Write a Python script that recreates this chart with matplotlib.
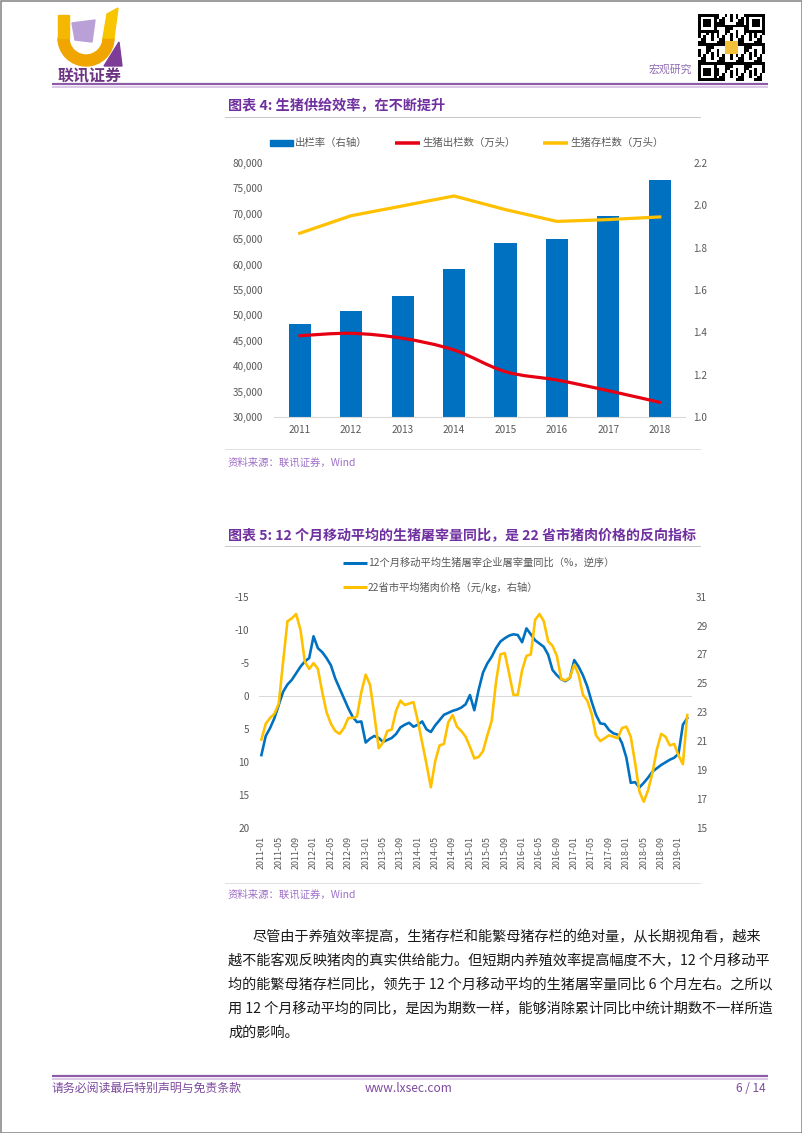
import matplotlib.pyplot as plt
import matplotlib.patches as mpatches
from matplotlib.path import Path
import numpy as np

plt.rcParams['font.family'] = ['Noto Sans CJK SC', 'DejaVu Sans']
plt.rcParams['axes.unicode_minus'] = False

W, H = 802, 1133

# ---- chart 4 data ----
years = ['2011', '2012', '2013', '2014', '2015', '2016', '2017', '2018']
ratio = [1.44, 1.50, 1.57, 1.70, 1.82, 1.84, 1.95, 2.12]          # 出栏率, right axis
chulan = [46000, 46470, 45490, 43190, 38920, 37280, 35180, 32890]  # red
cunlan = [66170, 69628, 71557, 73510, 70825, 68502, 68861, 69382]  # yellow

# ---- chart 5 data (monthly, 2011-01 ...) ----
month_ticks = ['2011-01', '2011-05', '2011-09', '2012-01', '2012-05', '2012-09',
               '2013-01', '2013-05', '2013-09', '2014-01', '2014-05', '2014-09',
               '2015-01', '2015-05', '2015-09', '2016-01', '2016-05', '2016-09',
               '2017-01', '2017-05', '2017-09', '2018-01', '2018-05', '2018-09',
               '2019-01']
slaughter_yoy = [9.0, 6.1, 4.9, 3.4, 1.4, -0.6, -1.7, -2.4, -3.4, -4.4, -5.2, -5.7,
                 -9.0, -7.2, -6.6, -5.7, -4.6, -2.6, -1.1, 0.4, 1.9, 3.2, 4.0, 3.9,
                 7.1, 6.5, 6.1, 6.4, 7.0, 6.7, 6.4, 5.8, 4.8, 4.4, 4.1, 4.7,
                 4.4, 3.9, 5.1, 5.5, 4.5, 3.7, 2.9, 2.6, 2.3, 2.1, 1.8, 1.3,
                 -0.1, 2.2, -0.9, -3.5, -4.9, -5.9, -7.2, -8.2, -8.7, -9.1, -9.3, -9.2,
                 -8.1, -10.2, -9.3, -8.4, -7.9, -7.4, -6.2, -3.9, -3.1, -2.5, -2.2, -2.7,
                 -5.4, -4.4, -3.1, -1.4, 0.9, 2.9, 4.2, 4.3, 5.2, 5.7, 5.9, 7.2,
                 9.4, 13.2, 13.1, 13.9, 13.2, 12.4, 11.5, 11.0, 10.5, 10.1, 9.7, 9.4,
                 8.8, 4.4, 3.4]
pork_price = [21.1, 22.2, 22.6, 22.9, 23.6, 26.5, 29.3, 29.5, 29.8, 28.7, 26.5, 26.0,
              26.4, 26.0, 24.4, 23.0, 22.2, 21.7, 21.5, 21.9, 22.6, 22.6, 22.7, 24.4,
              25.6, 24.9, 22.8, 20.5, 20.9, 21.7, 21.8, 23.1, 23.8, 23.5, 23.6, 23.7,
              22.4, 20.9, 19.4, 17.8, 19.6, 20.7, 20.8, 22.3, 22.8, 22.0, 21.7, 21.3,
              20.6, 19.8, 19.9, 20.3, 21.4, 22.4, 25.1, 27.0, 27.1, 25.7, 24.2, 24.2,
              25.9, 26.9, 27.0, 29.4, 29.8, 29.3, 27.9, 27.6, 26.9, 25.3, 25.2, 25.4,
              26.3, 25.6, 24.2, 23.8, 22.9, 21.4, 21.0, 21.2, 21.4, 21.3, 21.2, 21.9,
              22.0, 21.3, 19.5, 17.5, 16.8, 17.6, 18.8, 20.4, 21.5, 21.3, 20.7, 20.8,
              20.0, 19.4, 22.8]

paragraph = ['尽管由于养殖效率提高，生猪存栏和能繁母猪存栏的绝对量，从长期视角看，越来',
             '越不能客观反映猪肉的真实供给能力。但短期内养殖效率提高幅度不大，12 个月移动平',
             '均的能繁母猪存栏同比，领先于 12 个月移动平均的生猪屠宰量同比 6 个月左右。之所以',
             '用 12 个月移动平均的同比，是因为期数一样，能够消除累计同比中统计期数不一样所造',
             '成的影响。']

BLUE = '#0070C0'
RED = '#E60012'
YEL = '#FFC000'
PURPLE = '#7030A0'
GREY = '#595959'


def lw(p):
    # pixels -> points
    return p * 0.72


def smooth_path(xs, ys):
    # Excel-style smoothed line: Catmull-Rom segments as cubic Beziers
    pts = np.column_stack([xs, ys]).astype(float)
    verts = [pts[0]]
    codes = [Path.MOVETO]
    for i in range(len(pts) - 1):
        p0 = pts[i - 1] if i > 0 else pts[i]
        p1, p2 = pts[i], pts[i + 1]
        p3 = pts[i + 2] if i + 2 < len(pts) else pts[i + 1]
        verts += [p1 + (p2 - p0) / 6, p2 - (p3 - p1) / 6, p2]
        codes += [Path.CURVE4] * 3
    return Path(verts, codes)


fig = plt.figure(figsize=(W / 100, H / 100), dpi=100)
page = fig.add_axes([0, 0, 1, 1])
page.set_xlim(0, W)
page.set_ylim(H, 0)
page.axis('off')

# page frame
page.add_patch(mpatches.Rectangle((0.5, 0.5), W - 1, H - 1, fill=False, ec='#808080', lw=lw(1.5)))

# logo
page.add_patch(mpatches.Wedge((86, 38), 28, 0, 180, width=11, color='#F0A500'))
page.add_patch(mpatches.Rectangle((58, 15), 11, 23, color='#F5B800'))
page.add_patch(mpatches.Polygon([(103, 38), (114, 38), (118, 8), (107, 14)], color='#F7C600'))
page.add_patch(mpatches.Polygon([(72, 23), (95, 20), (92, 42), (75, 40)], color='#B9A0D6'))
page.add_patch(mpatches.Polygon([(104, 66), (122, 66), (119, 42)], color='#7D3C98'))
page.text(90, 76, '联讯证券', fontsize=11.5, fontweight='bold', color='#6C3483', ha='center', va='center')

# QR-like block
qx, qy, n = 698, 14, 25
m = 67 / n
for r in range(n):
    for c in range(n):
        corner = (r < 7 and c < 7) or (r < 7 and c >= n - 7) or (r >= n - 7 and c < 7)
        if corner:
            rr = r if r < 7 else r - (n - 7)
            cc = c if c < 7 else c - (n - 7)
            on = rr in (0, 6) or cc in (0, 6) or (2 <= rr <= 4 and 2 <= cc <= 4)
        else:
            on = ((r * r + 3 * c + r * c) % 7) < 3
        if on:
            page.add_patch(mpatches.Rectangle((qx + c * m, qy + r * m), m, m, color='black', lw=0))
page.add_patch(mpatches.Rectangle((qx + 10 * m, qy + 10 * m), 5 * m, 5 * m, color='#F3C03A', lw=0))

page.text(692, 70, '宏观研究', fontsize=7.8, color='#8E6BB0', ha='right', va='center')

# header / footer rules
for y0 in (84, 1076):
    page.plot([52, 768], [y0, y0], color='#8E5BA8', lw=lw(2.2), solid_capstyle='butt')
    page.plot([52, 768], [y0 + 2.5, y0 + 2.5], color='#D2B9E0', lw=lw(1.5), solid_capstyle='butt')
page.text(52, 1088, '请务必阅读最后特别声明与免责条款', fontsize=8.6, color='#7D4A9E', va='center')
page.text(409, 1088, 'www.lxsec.com', fontsize=8.6, color='#7D4A9E', va='center', ha='center')
page.text(766, 1088, '6 / 14', fontsize=8.6, color='#7D4A9E', va='center', ha='right')

# ---------------- chart 4 ----------------
page.text(228, 106, '图表 4: 生猪供给效率，在不断提升', fontsize=10.2, fontweight='bold', color=PURPLE, va='center')
page.plot([225, 700], [117, 117], color='#C8C8C8', lw=lw(1))

page.add_patch(mpatches.Rectangle((270, 140), 23, 6, color=BLUE))
page.text(295, 143, '出栏率（右轴）', fontsize=7.5, color=GREY, va='center')
page.plot([395, 420], [143, 143], color=RED, lw=lw(3.5), solid_capstyle='butt')
page.text(422, 143, '生猪出栏数（万头）', fontsize=7.5, color=GREY, va='center')
page.plot([543, 568], [143, 143], color=YEL, lw=lw(3.5), solid_capstyle='butt')
page.text(570, 143, '生猪存栏数（万头）', fontsize=7.5, color=GREY, va='center')

ax1 = fig.add_axes([274 / W, 1 - 417 / H, 411.5 / W, 254 / H])
ax1b = ax1.twinx()
x1 = np.arange(len(years))
ax1b.bar(x1, ratio, width=0.43, color=BLUE)
ax1.add_patch(mpatches.PathPatch(smooth_path(x1, chulan), fill=False, ec=RED, lw=lw(3.2), capstyle='round'))
ax1.plot(x1, cunlan, color=YEL, lw=lw(3.2))
ax1.set_zorder(ax1b.get_zorder() + 1)
ax1.patch.set_visible(False)

ax1.set_xlim(-0.5, 7.5)
ax1.set_ylim(30000, 80000)
ax1.set_yticks(range(30000, 80001, 5000))
ax1.set_yticklabels(['{:,}'.format(v) for v in range(30000, 80001, 5000)])
ax1.set_xticks(x1)
ax1.set_xticklabels(years)
ax1b.set_ylim(1.0, 2.2)
ax1b.set_yticks([1.0, 1.2, 1.4, 1.6, 1.8, 2.0, 2.2])
ax1b.set_yticklabels(['1.0', '1.2', '1.4', '1.6', '1.8', '2.0', '2.2'])
for a in (ax1, ax1b):
    for s in a.spines.values():
        s.set_visible(False)
ax1.spines['bottom'].set_visible(True)
ax1.spines['bottom'].set_color('#D9D9D9')
ax1.tick_params(axis='y', length=0, labelsize=7.2, labelcolor=GREY, pad=8)
ax1.tick_params(axis='x', length=0, labelsize=7.2, labelcolor=GREY, pad=6)
ax1b.tick_params(axis='y', length=0, labelsize=7.2, labelcolor=GREY, pad=5.5)

page.plot([225, 700], [449, 449], color='#E0E0E0', lw=lw(1))
page.text(228, 463, '资料来源：联讯证券，Wind', fontsize=7.5, color='#A070C8', va='center', style='italic')

# ---------------- chart 5 ----------------
page.text(228, 536, '图表 5: 12 个月移动平均的生猪屠宰量同比，是 22 省市猪肉价格的反向指标',
          fontsize=10.1, fontweight='bold', color=PURPLE, va='center')
page.plot([225, 700], [546, 546], color='#C8C8C8', lw=lw(1))

page.plot([343, 367], [563, 563], color=BLUE, lw=lw(3), solid_capstyle='butt')
page.text(368, 563, '12个月移动平均生猪屠宰企业屠宰量同比（%，逆序）', fontsize=7.4, color=GREY, va='center')
page.plot([343, 367], [587, 587], color=YEL, lw=lw(3), solid_capstyle='butt')
page.text(368, 587, '22省市平均猪肉价格（元/kg，右轴）', fontsize=7.4, color=GREY, va='center')

ax2 = fig.add_axes([259 / W, 1 - 827.7 / H, 433 / W, 231 / H])
ax2r = ax2.twinx()
ax2.plot(np.arange(len(slaughter_yoy)), slaughter_yoy, color=BLUE, lw=lw(2.6))
ax2r.plot(np.arange(len(pork_price)), pork_price, color=YEL, lw=lw(2.6))
ax2.axhline(0, color='#D9D9D9', lw=lw(1), zorder=0)

ax2.set_xlim(-0.55, 99.1)
ax2.set_ylim(20, -15)
ax2.set_yticks(range(-15, 21, 5))
ax2.set_yticklabels([str(v) for v in range(-15, 21, 5)])
ax2r.set_ylim(15, 31)
ax2r.set_yticks(range(15, 32, 2))
ax2.set_xticks(np.arange(0, 97, 4))
ax2.set_xticklabels(month_ticks, rotation=90)
for a in (ax2, ax2r):
    for s in a.spines.values():
        s.set_visible(False)
ax2.tick_params(axis='y', length=0, labelsize=7.2, labelcolor=GREY, pad=7)
ax2.tick_params(axis='x', length=0, labelsize=6.4, labelcolor=GREY, pad=6)
ax2r.tick_params(axis='y', length=0, labelsize=7.2, labelcolor=GREY, pad=3)

page.plot([225, 700], [883, 883], color='#E0E0E0', lw=lw(1))
page.text(228, 895, '资料来源：联讯证券，Wind', fontsize=7.5, color='#A070C8', va='center', style='italic')

# body text
for i, line in enumerate(paragraph):
    x0 = 253 if i == 0 else 228
    page.text(x0, 937 + 24 * i, line, fontsize=10.2, color='#1A1A1A', va='center')

fig.savefig('out.png', dpi=100)
